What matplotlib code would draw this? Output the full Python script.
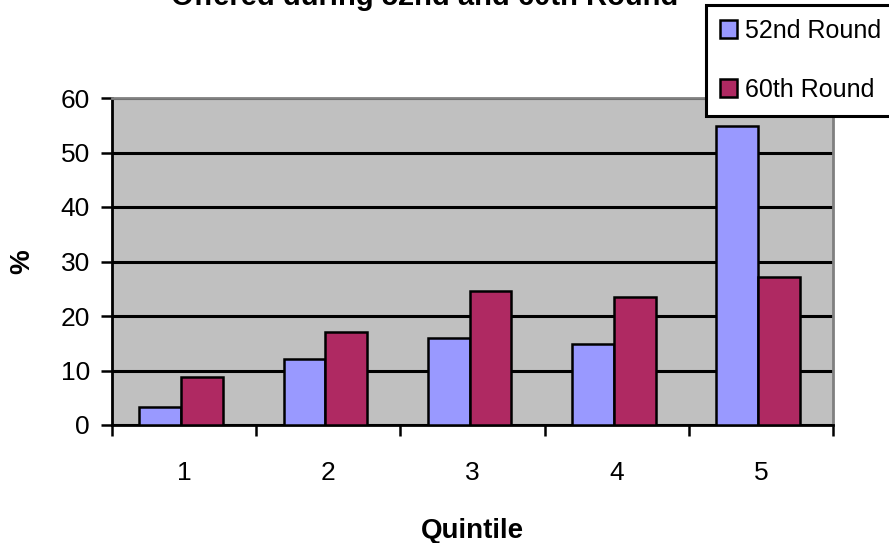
import matplotlib
matplotlib.use("Agg")
import matplotlib.pyplot as plt
import numpy as np

plt.rcParams['font.family'] = ['Liberation Sans', 'DejaVu Sans']

categories = ['1', '2', '3', '4', '5']
series_names = ['52nd Round', '60th Round']
round52 = [3.3, 12.1, 16.0, 14.9, 54.8]
round60 = [8.8, 17.0, 24.6, 23.5, 27.2]
colors = ['#9999FF', '#AF2962']
yticks = [0, 10, 20, 30, 40, 50, 60]

fig = plt.figure(figsize=(8.89, 5.43), dpi=100)
ax = fig.add_axes([112/889, 1-425/543, (833-112)/889, (425-98)/543])
ax.set_facecolor('#C0C0C0')

x = np.arange(len(categories))
w = 0.29
off = -0.02
ax.bar(x + off - w/2, round52, w, color=colors[0], edgecolor='black', linewidth=1.8, label=series_names[0], zorder=3)
ax.bar(x + off + w/2, round60, w, color=colors[1], edgecolor='black', linewidth=1.8, label=series_names[1], zorder=3)

ax.set_xlim(-0.5, 4.5)
ax.set_ylim(0, 60)
ax.set_yticks(yticks)
ax.set_yticklabels([str(t) for t in yticks], fontsize=19)
ax.yaxis.grid(True, color='black', linewidth=2.2, zorder=1)
ax.set_axisbelow(True)

ax.set_xticks(x)
ax.set_xticklabels(categories, fontsize=19)
ax.tick_params(axis='x', which='major', length=0, pad=26)
ax.set_xticks(np.arange(-0.5, 5.0, 1.0), minor=True)
ax.tick_params(axis='x', which='minor', length=8, width=1.8, direction='out')
ax.tick_params(axis='y', length=8, width=1.8, direction='out', pad=8)

for s in ['left', 'bottom']:
    ax.spines[s].set_linewidth(2)
    ax.spines[s].set_color('black')
for s in ['top', 'right']:
    ax.spines[s].set_linewidth(2)
    ax.spines[s].set_color('#808080')

ax.set_ylabel('%', fontsize=20, fontweight='bold', labelpad=18)
ax.set_xlabel('Quintile', fontsize=20, fontweight='bold', labelpad=24)

fig.text(425/889, 1 - 5/543, 'Offered during 52nd and 60th Round', ha='center', va='baseline',
         fontsize=21, fontweight='bold')

leg = ax.legend(loc='upper left', bbox_to_anchor=(706/889, 1-5/543), bbox_transform=fig.transFigure,
                fontsize=18, frameon=True, fancybox=False, framealpha=1, edgecolor='black',
                handlelength=0.7, handleheight=0.7, handletextpad=0.3, labelspacing=1.4,
                borderpad=0.55, borderaxespad=0)
leg.get_frame().set_linewidth(2.2)

fig.savefig('out.png', dpi=100)
